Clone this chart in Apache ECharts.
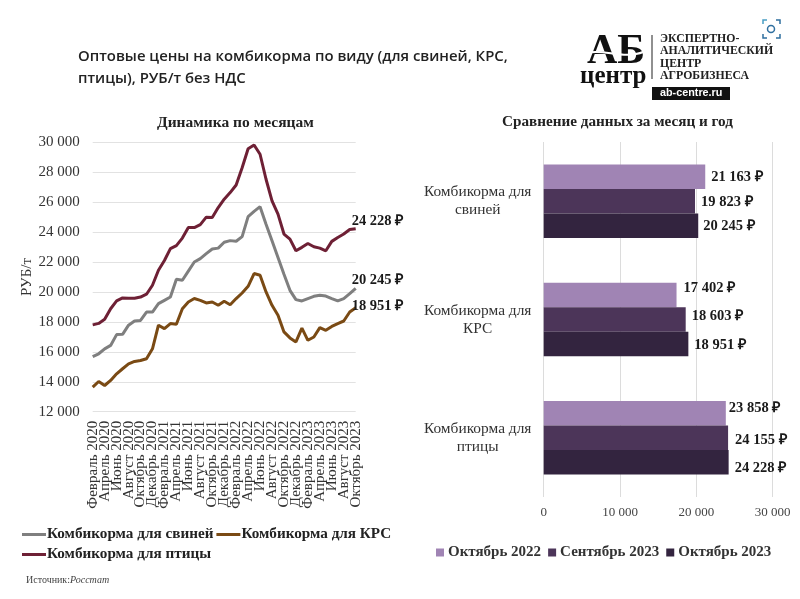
<!DOCTYPE html>
<html>
<head>
<meta charset="utf-8">
<style>
  html, body { margin: 0; background: #fff; }
  #chart { width: 800px; height: 599px; }
</style>
<script src="https://cdn.jsdelivr.net/npm/echarts@6/dist/echarts.min.js"></script>
</head>
<body>
<div id="chart"></div>
<script>
// помесячные данные
const months = [
  'Февраль 2020', 'Март 2020', 'Апрель 2020', 'Май 2020', 'Июнь 2020', 'Июль 2020', 'Август 2020', 'Сентябрь 2020', 'Октябрь 2020', 'Ноябрь 2020', 'Декабрь 2020',
  'Январь 2021', 'Февраль 2021', 'Март 2021', 'Апрель 2021', 'Май 2021', 'Июнь 2021', 'Июль 2021', 'Август 2021', 'Сентябрь 2021', 'Октябрь 2021', 'Ноябрь 2021', 'Декабрь 2021',
  'Январь 2022', 'Февраль 2022', 'Март 2022', 'Апрель 2022', 'Май 2022', 'Июнь 2022', 'Июль 2022', 'Август 2022', 'Сентябрь 2022', 'Октябрь 2022', 'Ноябрь 2022', 'Декабрь 2022',
  'Январь 2023', 'Февраль 2023', 'Март 2023', 'Апрель 2023', 'Май 2023', 'Июнь 2023', 'Июль 2023', 'Август 2023', 'Сентябрь 2023', 'Октябрь 2023'
]
const pigs = [
  15680, 15870, 16200, 16430, 17150, 17170, 17780, 18060, 18100, 18660, 18660,
  19220, 19440, 19660, 20850, 20780, 21390, 22000, 22230, 22560, 22870, 22930, 23320,
  23430, 23390, 23700, 25030, 25380, 25700, 24530, 23420, 22310, 21180, 20110, 19490,
  19400, 19560, 19710, 19780, 19730, 19560, 19400, 19560, 19890, 20245
]
const cattle = [
  13640, 14020, 13750, 14090, 14530, 14870, 15200, 15360, 15420, 15540, 16200,
  17780, 17550, 17890, 17840, 18880, 19330, 19560, 19440, 19270, 19330, 19110, 19380,
  19150, 19560, 19930, 20380, 21230, 21120, 20000, 19110, 18440, 17330, 16930, 16660,
  17590, 16770, 16990, 17620, 17440, 17700, 17890, 18060, 18660, 18951
]
const poultry = [
  17800, 17900, 18170, 18880, 19400, 19600, 19580, 19580, 19660, 19850, 20450,
  21450, 22100, 22900, 23100, 23600, 24300, 24300, 24500, 25000, 24980, 25640, 26200,
  26640, 27150, 28300, 29570, 29820, 29200, 27530, 26090, 25200, 23870, 23530, 22750,
  22980, 23240, 23020, 22930, 22750, 23380, 23640, 23870, 24170, 24228
]

// сравнение за месяц и год
const feedTypes = ['Комбикорма для\nсвиней', 'Комбикорма для\nКРС', 'Комбикорма для\nптицы']
const oct2022 = [21163, 17402, 23858]
const sep2023 = [19823, 18603, 24155]
const oct2023 = [20245, 18951, 24228]

const SERIF = '"Liberation Serif", serif'
const rub = v => String(v).replace(/\B(?=(\d{3})+$)/g, '\u00a0')
const rubLabel = v => rub(v) + ' ₽'

function lineSeries(name, data, color, labelOffset) {
  return {
    name,
    type: 'line',
    data,
    showSymbol: false,
    lineStyle: { width: 3, color },
    itemStyle: { color },
    endLabel: {
      show: true,
      formatter: p => rubLabel(p.value),
      distance: 0,
      offset: labelOffset,
      fontFamily: SERIF,
      fontWeight: 'bold',
      fontSize: 14.5,
      color: '#1a1a1a'
    }
  }
}

// подписи в оригинале сдвинуты вручную, сдвиг по каждой группе
function barSeries(name, values, color, nudges) {
  return {
    name,
    type: 'bar',
    xAxisIndex: 1,
    yAxisIndex: 1,
    data: values.map((value, i) => ({
      value,
      label: { offset: nudges[i] }
    })),
    barWidth: 24.5,
    barGap: 0,
    itemStyle: { color },
    label: {
      show: true,
      position: 'right',
      distance: 6,
      formatter: p => rubLabel(p.value),
      fontFamily: SERIF,
      fontWeight: 'bold',
      fontSize: 14.5,
      color: '#1a1a1a'
    }
  }
}

const option = {
  animation: false,
  backgroundColor: '#fff',
  textStyle: { fontFamily: SERIF },
  title: [
    {
      text: 'Оптовые цены на комбикорма по виду (для свиней, КРС,\nптицы), РУБ/т без НДС',
      left: 73,
      top: 41,
      textStyle: {
        fontFamily: '"Open Sans", sans-serif',
        fontSize: 14.9,
        fontWeight: 600,
        lineHeight: 22,
        color: '#222'
      }
    },
    {
      text: 'Динамика по месяцам',
      left: 152,
      top: 110,
      textStyle: { fontFamily: SERIF, fontSize: 15.5, fontWeight: 'bold', color: '#222' }
    },
    {
      text: 'Сравнение данных за месяц и год',
      left: 497,
      top: 110,
      textStyle: { fontFamily: SERIF, fontSize: 15.2, fontWeight: 'bold', color: '#222' }
    }
  ],
  legend: [
    {
      data: ['Комбикорма для свиней', 'Комбикорма для КРС', 'Комбикорма для птицы'],
      left: 17,
      top: 521,
      width: 385,
      itemWidth: 24,
      itemHeight: 3,
      itemGap: 3,
      icon: 'rect',
      textStyle: { fontFamily: SERIF, fontWeight: 'bold', fontSize: 15.2, lineHeight: 17, color: '#222', padding: [0, 0, 0, -4] }
    },
    {
      data: ['Октябрь 2022', 'Сентябрь 2023', 'Октябрь 2023'],
      left: 431,
      top: 540,
      itemWidth: 8,
      itemHeight: 8,
      itemGap: 7,
      icon: 'rect',
      textStyle: { fontFamily: SERIF, fontWeight: 'bold', fontSize: 15, color: '#333', padding: [0, 0, 0, -1] }
    }
  ],
  grid: [
    { left: 92.7, top: 142.3, width: 263, height: 269.4, containLabel: false },
    { left: 543.7, top: 142, width: 229, height: 355, containLabel: false }
  ],
  xAxis: [
    {
      type: 'category',
      gridIndex: 0,
      data: months,
      boundaryGap: false,
      axisLine: { show: false },
      axisTick: { show: false },
      axisLabel: {
        // interval 0, иначе крайние подписи скрываются как наложенные
        interval: 0,
        formatter: (value, index) => (index % 2 ? '' : value),
        rotate: 90,
        margin: 9,
        fontFamily: SERIF,
        fontSize: 15,
        color: '#333'
      }
    },
    {
      type: 'value',
      gridIndex: 1,
      min: 0,
      max: 30000,
      interval: 10000,
      axisLine: { show: false },
      axisTick: { show: false },
      splitLine: { lineStyle: { color: '#dcdcdc' } },
      axisLabel: { formatter: rub, margin: 9, fontFamily: SERIF, fontSize: 13, color: '#444' }
    }
  ],
  yAxis: [
    {
      type: 'value',
      gridIndex: 0,
      min: 12000,
      max: 30000,
      interval: 2000,
      name: 'РУБ/т',
      nameLocation: 'middle',
      nameGap: 54,
      nameTextStyle: { fontFamily: SERIF, fontSize: 15, color: '#333' },
      axisLine: { show: false },
      axisTick: { show: false },
      splitLine: { lineStyle: { color: '#e2e2e2' } },
      axisLabel: { formatter: rub, margin: 13, fontFamily: SERIF, fontSize: 15, color: '#333' }
    },
    {
      type: 'category',
      gridIndex: 1,
      inverse: true,
      data: feedTypes,
      axisLine: { show: false },
      axisTick: { show: false },
      axisLabel: {
        align: 'center',
        margin: 66,
        lineHeight: 18,
        padding: [4, 0, 0, 0],
        fontFamily: SERIF,
        fontSize: 15.4,
        color: '#333'
      }
    }
  ],
  series: [
    lineSeries('Комбикорма для свиней', pigs, '#7f7f7f', [-4, -8]),
    lineSeries('Комбикорма для КРС', cattle, '#7a4a14', [-4, -1]),
    lineSeries('Комбикорма для птицы', poultry, '#6e2035', [-4, -7]),
    barSeries('Октябрь 2022', oct2022, '#a084b4', [[0, 1], [1, -7], [-3, -5]]),
    barSeries('Сентябрь 2023', sep2023, '#4c3559', [[0, 1], [0, -3], [1, 2]]),
    barSeries('Октябрь 2023', oct2023, '#33243f', [[-1, 1], [0, 1], [0, 6]])
  ],
  // логотип, значок и подпись источника
  graphic: [
    { type: 'text', left: 587, top: 31, style: { text: 'АБ', font: 'bold 42px ' + SERIF, fill: '#111' } },
    { type: 'bezierCurve', shape: { x1: 580, y1: 56, cpx1: 602, cpy1: 44, cpx2: 622, cpy2: 64, x2: 650, y2: 49 }, style: { fill: 'none', stroke: '#fff', lineWidth: 2 } },
    { type: 'text', left: 580, top: 64, style: { text: 'центр', font: 'bold 25px ' + SERIF, fill: '#111' } },
    { type: 'rect', shape: { x: 651.5, y: 35, width: 1, height: 44 }, style: { fill: '#222' } },
    { type: 'text', left: 660, top: 33, style: { text: 'ЭКСПЕРТНО-', font: 'bold 11.8px ' + SERIF, fill: '#222' } },
    { type: 'text', left: 660, top: 45, style: { text: 'АНАЛИТИЧЕСКИЙ', font: 'bold 11.8px ' + SERIF, fill: '#222' } },
    { type: 'text', left: 660, top: 58, style: { text: 'ЦЕНТР', font: 'bold 11.8px ' + SERIF, fill: '#222' } },
    { type: 'text', left: 660, top: 70, style: { text: 'АГРОБИЗНЕСА', font: 'bold 11.8px ' + SERIF, fill: '#222' } },
    { type: 'rect', shape: { x: 652, y: 87, width: 78, height: 13 }, style: { fill: '#111' } },
    { type: 'text', left: 660, top: 88, style: { text: 'ab-centre.ru', font: 'bold 10.8px "Liberation Sans", sans-serif', fill: '#fff' } },
    { type: 'circle', shape: { cx: 771, cy: 29, r: 3.5 }, style: { fill: 'none', stroke: '#2f6f9f', lineWidth: 1.5 } },
    { type: 'polyline', shape: { points: [[763, 24], [763, 20], [767, 20]] }, style: { fill: 'none', stroke: '#4a9ec4', lineWidth: 1.5 } },
    { type: 'polyline', shape: { points: [[776, 20], [780, 20], [780, 24]] }, style: { fill: 'none', stroke: '#2f6f9f', lineWidth: 1.5 } },
    { type: 'polyline', shape: { points: [[763, 34], [763, 38], [767, 38]] }, style: { fill: 'none', stroke: '#2f6f9f', lineWidth: 1.5 } },
    { type: 'polyline', shape: { points: [[776, 38], [780, 38], [780, 34]] }, style: { fill: 'none', stroke: '#2f6f9f', lineWidth: 1.5 } },
    { type: 'text', left: 26, top: 575, style: { text: 'Источник:', font: '10px ' + SERIF, fill: '#444' } },
    { type: 'text', left: 70, top: 575, style: { text: 'Росстат', font: 'italic 10px ' + SERIF, fill: '#444' } }
  ]
}

const chart = echarts.init(document.getElementById('chart'), null, { renderer: 'canvas' })
chart.setOption(option)
</script>
</body>
</html>
